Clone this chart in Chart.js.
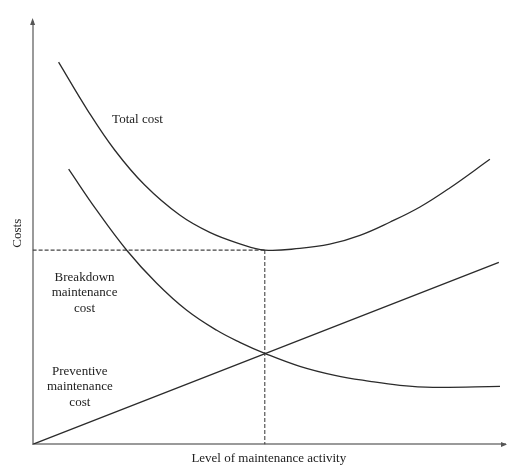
<!DOCTYPE html>
<html>
<head>
<meta charset="utf-8">
<script src="https://cdn.jsdelivr.net/npm/chart.js@4.4.1/dist/chart.umd.min.js"></script>
<style>
html,body{margin:0;padding:0;background:#fff;}
#wrap{width:508px;height:468px;}
</style>
</head>
<body>
<div id="wrap"><canvas id="c" width="508" height="468"></canvas></div>
<script>
// ---- data (x: level of maintenance activity, y: costs; arbitrary units 0..100) ----
const totalX = [5.5, 11.65, 17.37, 23.73, 31.14, 37.5, 43.86, 49.15, 56.57, 62.9, 69.3, 75.6, 82.0, 88.3, 96.8];
const totalY = [90.5, 79.1, 69.7, 61.4, 54.3, 50.2, 47.5, 46.0, 46.4, 47.4, 49.5, 52.6, 56.2, 60.7, 67.5];
const breakdownX = [7.63, 13.56, 19.92, 26.27, 32.63, 38.98, 43.86, 49.15, 56.57, 63.98, 71.4, 77.75, 84.75, 98.94];
const breakdownY = [65.17, 55.45, 45.97, 38.15, 31.75, 27.01, 24.17, 21.56, 18.48, 16.35, 14.93, 13.98, 13.51, 13.74];
const preventiveX = [0, 98.7];
const preventiveY = [0, 43.1];
const optimumX = 49.15;
const optimumY = 46.0;
const xTitle = 'Level of maintenance activity';
const yTitle = 'Costs';
const curveLabels = [
  {lines: ['Total cost'], x: 22.2, y: 77.0},
  {lines: ['Breakdown', 'maintenance', 'cost'], x: 11.0, y: 39.6},
  {lines: ['Preventive', 'maintenance', 'cost'], x: 10.0, y: 17.3}
];

const pts = (xs, ys) => xs.map((x, i) => ({x: x, y: ys[i]}));
const FONT = "'Liberation Serif', 'DejaVu Serif', serif";
const LINE = '#2b2b2b';
const AXIS = '#9a9a9a';

const labelPlugin = {
  id: 'labels',
  afterDatasetsDraw(chart) {
    const {ctx, scales: {x, y}} = chart;
    ctx.save();
    ctx.fillStyle = '#222';
    ctx.font = '13px ' + FONT;
    ctx.textAlign = 'center';
    ctx.textBaseline = 'middle';
    curveLabels.forEach(l => {
      const px = x.getPixelForValue(l.x);
      const py = y.getPixelForValue(l.y);
      l.lines.forEach((t, i) => ctx.fillText(t, px, py + i * 15.5));
    });
    // arrow heads on the axes
    const a = chart.chartArea;
    ctx.fillStyle = '#555';
    ctx.beginPath();
    ctx.moveTo(a.left, a.top - 4);
    ctx.lineTo(a.left - 2.5, a.top + 3);
    ctx.lineTo(a.left + 2.5, a.top + 3);
    ctx.closePath();
    ctx.fill();
    ctx.beginPath();
    ctx.moveTo(a.right + 2, a.bottom);
    ctx.lineTo(a.right - 4, a.bottom - 2.5);
    ctx.lineTo(a.right - 4, a.bottom + 2.5);
    ctx.closePath();
    ctx.fill();
    ctx.restore();
  }
};

const common = {borderColor: LINE, borderWidth: 1.3, pointRadius: 0, showLine: true, fill: false};

new Chart(document.getElementById('c'), {
  type: 'scatter',
  data: {
    datasets: [
      Object.assign({label: 'Total cost', data: pts(totalX, totalY), tension: 0.4}, common),
      Object.assign({label: 'Breakdown maintenance cost', data: pts(breakdownX, breakdownY), tension: 0.4}, common),
      Object.assign({label: 'Preventive maintenance cost', data: pts(preventiveX, preventiveY)}, common),
      {label: 'optimum-h', data: [{x: 0, y: optimumY}, {x: optimumX, y: optimumY}], showLine: true, pointRadius: 0,
       borderColor: '#444', borderWidth: 1.1, borderDash: [4, 2]},
      {label: 'optimum-v', data: [{x: optimumX, y: optimumY}, {x: optimumX, y: 0}], showLine: true, pointRadius: 0,
       borderColor: '#444', borderWidth: 1.1, borderDash: [4, 2]}
    ]
  },
  options: {
    responsive: false,
    animation: false,
    devicePixelRatio: 1,
    layout: {padding: {left: 0, right: 3, top: 22, bottom: 0}},
    plugins: {legend: {display: false}, tooltip: {enabled: false}},
    scales: {
      x: {
        type: 'linear', min: 0, max: 100,
        grid: {display: false, drawTicks: false},
        ticks: {display: false},
        border: {display: true, color: AXIS, width: 2},
        title: {display: true, text: xTitle, color: '#222', font: {family: FONT, size: 13}, padding: {top: 6, bottom: 2}}
      },
      y: {
        type: 'linear', min: 0, max: 100,
        grid: {display: false, drawTicks: false},
        ticks: {display: false},
        border: {display: true, color: AXIS, width: 2},
        title: {display: true, text: yTitle, color: '#222', font: {family: FONT, size: 13}, padding: {top: 10, bottom: 7}}
      }
    }
  },
  plugins: [labelPlugin]
});
</script>
</body>
</html>
